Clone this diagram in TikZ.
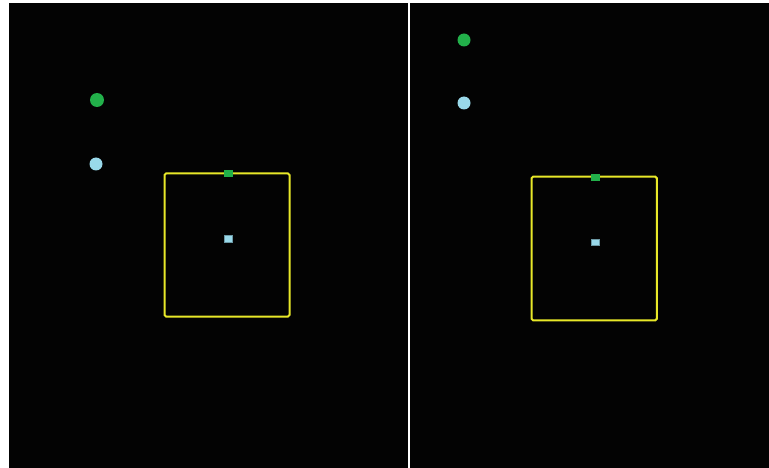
\documentclass[tikz,border=0pt]{standalone}
\definecolor{dotgreen}{RGB}{34,176,74}
\definecolor{dotblue}{RGB}{153,217,234}
\definecolor{boxyellow}{RGB}{232,232,40}
\definecolor{bgblack}{RGB}{3,3,3}
\tikzset{
  panel/.style={fill=bgblack, draw=none},
  gdot/.style={circle, fill=dotgreen, draw=none, inner sep=0pt, minimum size=14pt},
  bdot/.style={circle, fill=dotblue, draw=none, inner sep=0pt, minimum size=13pt},
  frame/.style={draw=boxyellow, line width=2pt, rounded corners=1.5pt},
  gsq/.style={rectangle, fill=dotgreen, draw=none, inner sep=0pt, minimum width=8.7pt, minimum height=6.7pt},
  bsq/.style={rectangle, fill=dotblue, draw=dotblue!70!black, line width=0.4pt, inner sep=0pt, minimum width=8.3pt, minimum height=6.5pt},
}
\begin{document}
\begin{tikzpicture}[x=1pt,y=-1pt]
\useasboundingbox (0,0) rectangle (769,468);
\fill[white] (0,0) rectangle (769,468);
\fill[panel] (9,3) rectangle (407.5,468);
\fill[panel] (410,3) rectangle (769,468);
% left panel
\node[gdot] (g1) at (97,100) {};
\node[bdot] (b1) at (96,164) {};
\draw[frame] (164.5,173.5) rectangle (289.5,316.5);
\node[gsq] (gs1) at (228.3,173.7) {};
\node[bsq] (bs1) at (228.3,238.7) {};
% right panel
\node[gdot, minimum size=13pt] (g2) at (464,40) {};
\node[bdot] (b2) at (464,103) {};
\draw[frame] (531.5,176.7) rectangle (656.8,320.3);
\node[gsq] (gs2) at (595.5,177.3) {};
\node[bsq] (bs2) at (595.5,242) {};
\end{tikzpicture}
\end{document}
